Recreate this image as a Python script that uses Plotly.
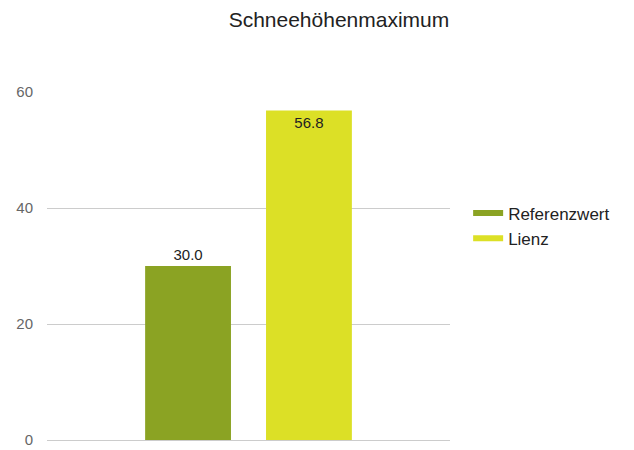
import plotly.graph_objects as go

categories = [""]
series_names = ["Referenzwert", "Lienz"]
ref_values = [30.0]
lienz_values = [56.8]
colors = ["#8ba323", "#dce026"]
y_ticks = [0, 20, 40, 60]

fig = go.Figure()
fig.add_trace(go.Bar(
    x=categories, y=ref_values, name=series_names[0], showlegend=False,
    marker=dict(color=colors[0], line=dict(width=0)),
    texttemplate="%{y:.1f}", textposition="outside",
    textfont=dict(color="#222", size=15), cliponaxis=False,
))
fig.add_trace(go.Bar(
    x=categories, y=lienz_values, name=series_names[1], showlegend=False,
    marker=dict(color=colors[1], line=dict(width=0)),
    texttemplate="%{y:.1f}", textposition="inside", insidetextanchor="end",
    textfont=dict(color="#222", size=15), cliponaxis=False,
))
# legend entries drawn as thick line keys (reference uses wide flat swatches)
for name, col in zip(series_names, colors):
    fig.add_trace(go.Scatter(
        x=[None], y=[None], mode="lines", name=name,
        line=dict(color=col, width=6), showlegend=True, hoverinfo="skip",
    ))

fig.update_layout(
    width=634, height=450,
    margin=dict(l=39, r=192, t=84, b=18, autoexpand=False),
    paper_bgcolor="white", plot_bgcolor="white",
    font=dict(family="Liberation Sans, Arial, sans-serif", color="#222"),
    title=dict(text="Schneehöhenmaximum", x=0.522, xanchor="center",
               y=0.975, yref="container", yanchor="middle",
               font=dict(size=21, color="#222")),
    barmode="group", bargap=0.40, bargroupgap=0.29,
    showlegend=True,
    legend=dict(x=1.045, xanchor="left", y=0.615, yanchor="middle",
                font=dict(size=17, color="#222"), bgcolor="rgba(0,0,0,0)",
                tracegroupgap=0, itemwidth=30),
    uniformtext=dict(minsize=8, mode="show"),
)
fig.update_yaxes(range=[0, 60], tickvals=y_ticks, showgrid=True,
                 gridcolor="#cccccc", gridwidth=1, zeroline=True,
                 zerolinecolor="#cccccc", zerolinewidth=1,
                 tickfont=dict(size=15, color="#666"), ticklabelstandoff=13,
                 showline=False, ticks="", automargin=False)
fig.update_xaxes(showticklabels=False, showgrid=False, zeroline=False,
                 showline=False, automargin=False)

fig.write_html("out.html")
